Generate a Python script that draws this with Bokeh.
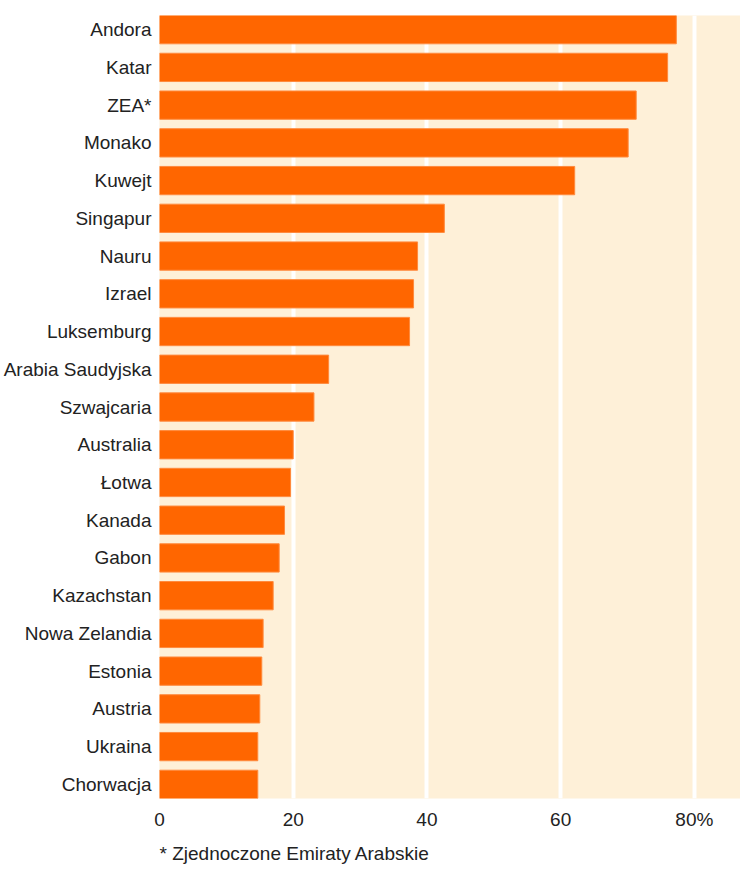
from bokeh.plotting import figure
from bokeh.models import FactorRange, Range1d, FixedTicker, Title
from bokeh.embed import file_html
from bokeh.resources import INLINE

countries = ["Andora", "Katar", "ZEA*", "Monako", "Kuwejt", "Singapur", "Nauru",
             "Izrael", "Luksemburg", "Arabia Saudyjska", "Szwajcaria", "Australia",
             "Łotwa", "Kanada", "Gabon", "Kazachstan", "Nowa Zelandia", "Estonia",
             "Austria", "Ukraina", "Chorwacja"]
values = [77.3, 76.0, 71.3, 70.1, 62.1, 42.6, 38.6, 38.0, 37.4, 25.3, 23.1, 20.0,
          19.6, 18.7, 17.9, 17.0, 15.5, 15.3, 15.0, 14.7, 14.7]
x_ticks = [0, 20, 40, 60, 80]
x_tick_labels = {0: "0", 20: "20", 40: "40", 60: "60", 80: "80%"}
footnote = "* Zjednoczone Emiraty Arabskie"

FONT = "Liberation Sans"
FS = "19px"

factors = list(reversed(countries))
n = len(factors)
yr = FactorRange(factors=factors, range_padding=-0.25 / n)

p = figure(width=740, height=871, y_range=yr, x_range=Range1d(0, 86.9),
           output_backend="svg", toolbar_location=None, tools="",
           min_border_left=157, min_border_top=15, min_border_right=0,
           min_border_bottom=0)

p.background_fill_color = "#FEF0D8"
p.border_fill_color = "white"
p.outline_line_color = None

p.hbar(y=countries, right=values, left=0, height=0.75,
       fill_color="#FF6600", line_color="#FF8A3D", line_width=1)

p.ygrid.grid_line_color = None
p.xgrid.ticker = FixedTicker(ticks=[t for t in x_ticks if t > 0])
p.xgrid.grid_line_color = "white"
p.xgrid.grid_line_width = 4

for ax in (p.xaxis, p.yaxis):
    ax.axis_line_color = None
    ax.major_tick_line_color = None
    ax.minor_tick_line_color = None
    ax.major_tick_out = 0
    ax.major_tick_in = 0
    ax.minor_tick_out = 0
    ax.minor_tick_in = 0
    ax.major_label_text_font = FONT
    ax.major_label_text_font_size = FS
    ax.major_label_text_color = "#222222"

p.xaxis.ticker = FixedTicker(ticks=x_ticks)
p.xaxis.major_label_overrides = x_tick_labels
p.xaxis.major_label_standoff = 10
p.yaxis.major_label_standoff = 8

note = Title(text=footnote, align="left", text_font=FONT, text_font_size=FS,
             text_font_style="normal", text_color="#222222", standoff=16)
p.add_layout(note, "below")

open("out.html", "w").write(file_html(p, INLINE))
